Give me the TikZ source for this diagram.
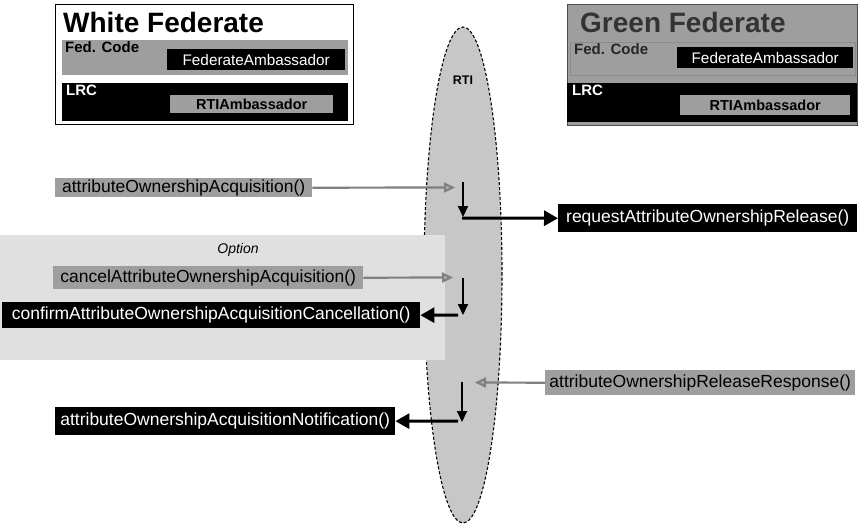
\documentclass[tikz,border=0pt]{standalone}
\usepackage{fontspec}
\setmainfont{Liberation Sans}
\usetikzlibrary{shapes.geometric,arrows.meta}
\definecolor{boxgray}{gray}{0.62}
\definecolor{rtigray}{gray}{0.78}
\definecolor{optgray}{gray}{0.88}
\definecolor{arrgray}{gray}{0.5}
\begin{document}
\begin{tikzpicture}[x=1pt,y=-1pt,
  box/.style={rectangle, inner sep=0pt, anchor=north west},
  gbox/.style={box, fill=boxgray, text=black},
  bbox/.style={box, fill=black, text=white},
  lab/.style={font=\fontsize{17.5}{20}\selectfont},
  title/.style={anchor=west, inner sep=0pt, font=\bfseries\fontsize{28}{30}\selectfont},
  small/.style={anchor=north west, inner sep=1pt, font=\bfseries\fontsize{15}{16}\selectfont},
  garrow/.style={draw=arrgray, line width=2.2pt, -{Triangle[length=11pt,width=10pt,fill=black!30]}},
  darrow/.style={draw=black, line width=2pt, -{Triangle[length=11pt,width=10pt]}},
  barrow/.style={draw=black, line width=3pt, -{Triangle[length=14pt,width=15pt]}}
]
\useasboundingbox (0,0) rectangle (859,527);

% White federate
\node[box, draw=black, line width=0.8pt, fill=white, minimum width=298, minimum height=120] (wf) at (55,4) {};
\node[title] (wft) at (63,22) {White Federate};
\node[gbox, minimum width=286, minimum height=35] (wfc) at (62,40) {};
\node[small] (wfcl) at (64,40) {Fed. Code};
\node[bbox, font=\fontsize{15.3}{16}\selectfont, minimum width=178, minimum height=21] (wffa) at (167,49) {FederateAmbassador};
\node[bbox, minimum width=286, minimum height=38] (wfl) at (62,83) {};
\node[small, text=white] (wfll) at (65,84) {LRC};
\node[gbox, font=\bfseries\fontsize{14.5}{16}\selectfont, minimum width=163, minimum height=18] (wfra) at (170,95) {RTIAmbassador};

% Green federate
\node[box, fill=boxgray, draw=black!70, line width=0.6pt, minimum width=290, minimum height=121] (gf) at (567,4) {};
\node[title, text=black!80] (gft) at (580,22) {Green Federate};
\node[gbox, draw=black!45, line width=0.6pt, minimum width=285, minimum height=33] (gfc) at (570,42) {};
\node[small, text=black!85] (gfcl) at (573,42) {Fed. Code};
\node[bbox, font=\fontsize{15.3}{16}\selectfont, minimum width=176, minimum height=21] (gffa) at (677,47) {FederateAmbassador};
\node[bbox, minimum width=290, minimum height=39] (gfl) at (567,83) {};
\node[small, text=white] (gfll) at (571,84) {LRC};
\node[gbox, font=\bfseries\fontsize{14.5}{16}\selectfont, minimum width=170, minimum height=20] (gfra) at (680,95) {RTIAmbassador};

% RTI
\node[ellipse, fill=rtigray, draw=black, line width=1.1pt, dash pattern=on 3pt off 2pt, minimum width=78, minimum height=496, inner sep=0pt] (rti) at (463,275) {};
\node[font=\bfseries\fontsize{12.5}{14}\selectfont] (rtil) at (463,80) {RTI};

% Option region
\node[box, fill=optgray, minimum width=445, minimum height=125] (opt) at (0,235) {};
\node[font=\itshape\fontsize{14}{16}\selectfont] (optl) at (238,250) {Option};

% Messages
\node[gbox, lab, minimum width=257, minimum height=19] (aoa) at (55,178) {attributeOwnershipAcquisition()};
\node[bbox, lab, minimum width=299, minimum height=28] (req) at (558,204) {requestAttributeOwnershipRelease()};
\node[gbox, lab, minimum width=310, minimum height=23] (cancel) at (53,266) {cancelAttributeOwnershipAcquisition()};
\node[bbox, lab, minimum width=418, minimum height=26] (confirm) at (2,302) {confirmAttributeOwnershipAcquisitionCancellation()};
\node[gbox, lab, minimum width=310, minimum height=25] (resp) at (545,370) {attributeOwnershipReleaseResponse()};
\node[bbox, lab, minimum width=340, minimum height=28] (notif) at (55,407) {attributeOwnershipAcquisitionNotification()};

% Coordinates inside RTI
\coordinate (a1) at (455,187.5);
\coordinate (d1s) at (463,182);
\coordinate (d1e) at (463,217);
\coordinate (r1) at (462,218);
\coordinate (a2) at (453,277.5);
\coordinate (d2s) at (463,278);
\coordinate (d2e) at (463,315);
\coordinate (c2) at (458,315);
\coordinate (a3) at (475,382.5);
\coordinate (d3s) at (462,382);
\coordinate (d3e) at (462,422);
\coordinate (c3) at (458,421);

% Connectors
\draw[garrow] (aoa.east) -- (a1);
\draw[darrow] (d1s) -- (d1e);
\draw[barrow] (r1) -- (req.west);
\draw[garrow] (cancel.east) -- (a2);
\draw[darrow] (d2s) -- (d2e);
\draw[barrow] (c2) -- (confirm.east);
\draw[garrow] (resp.west) -- (a3);
\draw[darrow] (d3s) -- (d3e);
\draw[barrow] (c3) -- (notif.east);
\end{tikzpicture}
\end{document}
